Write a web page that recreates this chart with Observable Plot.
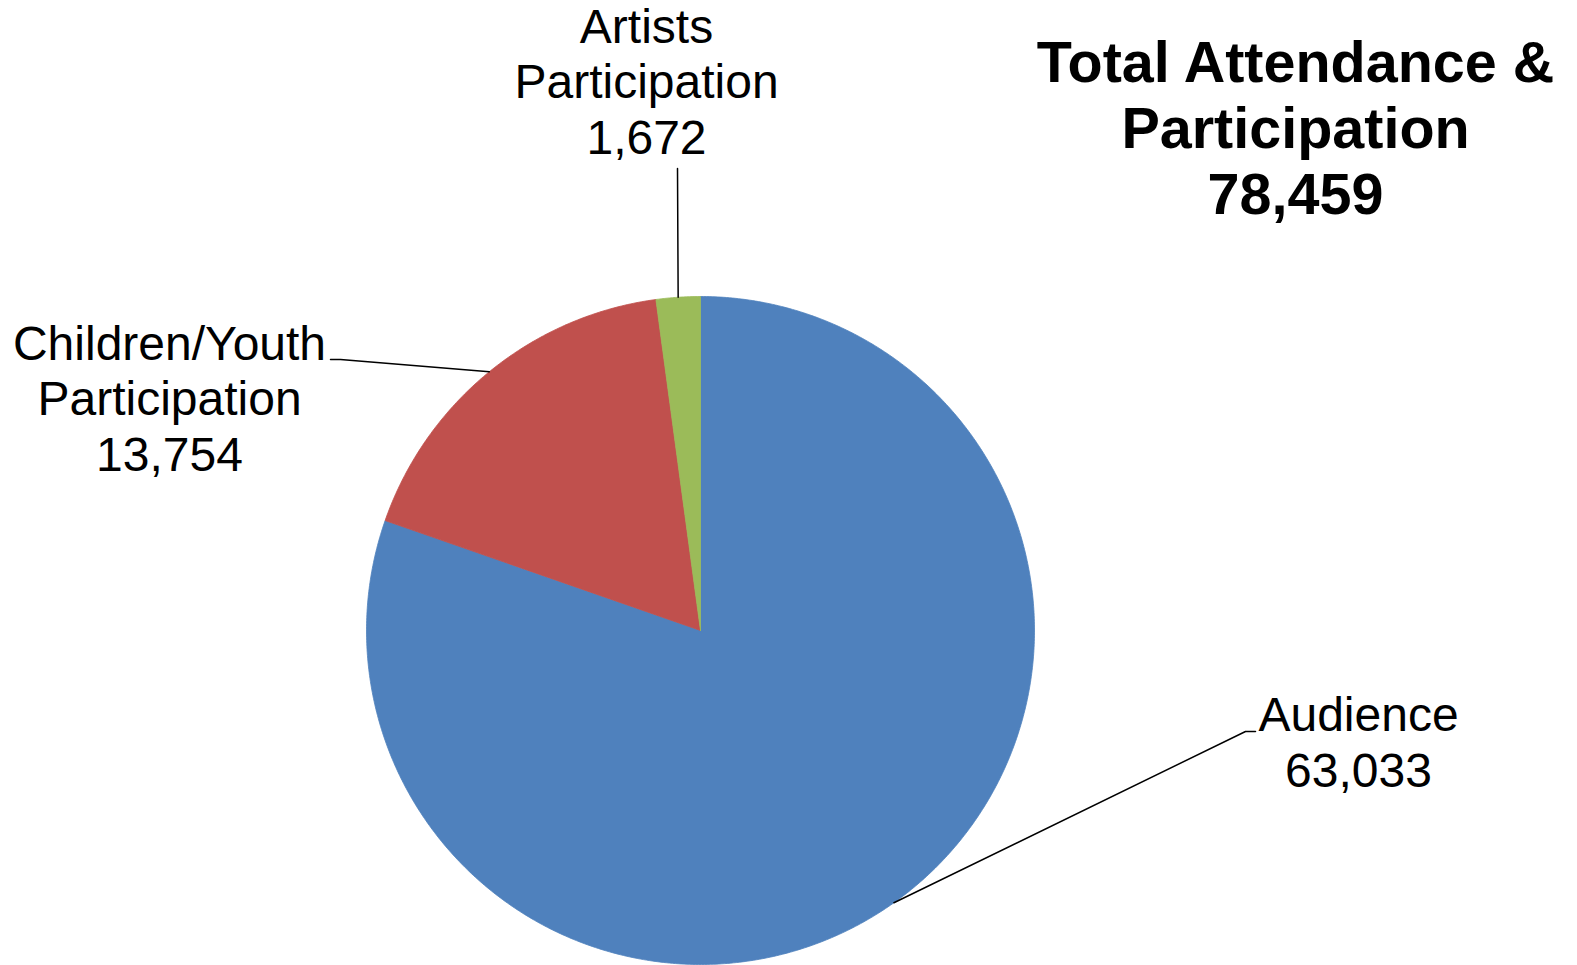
<!DOCTYPE html>
<html>
<head>
<meta charset="utf-8">
<script src="https://cdn.jsdelivr.net/npm/d3@7"></script>
<script src="https://cdn.jsdelivr.net/npm/@observablehq/plot@0.6"></script>
<style>
  html, body { margin: 0; padding: 0; background: #fff; }
  #chart svg { display: block; }
</style>
</head>
<body>
<div id="chart"></div>
<script>
// ---- data ----
const categories = ["Audience", "Children/Youth", "Artists"];
const labelNames = ["Audience", "Children/Youth\nParticipation", "Artists\nParticipation"];
const values = [63033, 13754, 1672];
const colors = ["#4F81BD", "#C0504D", "#9BBB59"];
const titleLines = ["Total Attendance &", "Participation"];

// ---- layout (pixels) ----
const W = 1577, H = 965, CX = 700, CY = 630, R = 334;
const px = (x) => (x - CX) / R;
const py = (y) => (CY - y) / R;
// leader-line bends and label anchors (pixel layout)
const leaderBends = [
  [[1245, 731], [1255, 731]],
  [[340, 359], [330, 359]],
  [[677, 168]]
];
const labelAnchors = [[1358, 786], [169, 470], [646, 153]];

const fmt = d3.format(",");
const rows = categories.map((c, i) => ({name: c, value: values[i], label: labelNames[i] + "\n" + fmt(values[i]), color: colors[i]}));
const total = d3.sum(values);

const arcs = d3.pie().sort(null).value(d => d.value).startAngle(0).endAngle(2 * Math.PI)(rows);

const wedgeMarks = arcs.map((a) => {
  const pts = [{x: 0, y: 0}];
  const n = Math.max(2, Math.ceil((a.endAngle - a.startAngle) / (Math.PI / 360)));
  for (let k = 0; k <= n; ++k) {
    const t = a.startAngle + (a.endAngle - a.startAngle) * k / n;
    pts.push({x: Math.sin(t), y: Math.cos(t)});
  }
  pts.push({x: 0, y: 0});
  return Plot.line(pts, {x: "x", y: "y", fill: a.data.color, stroke: a.data.color, strokeWidth: 0.8, curve: "linear"});
});

const leaderMarks = arcs.map((a, i) => {
  const m = (a.startAngle + a.endAngle) / 2;
  const pts = [{x: Math.sin(m), y: Math.cos(m)}].concat(leaderBends[i].map(([bx, by]) => ({x: px(bx), y: py(by)})));
  return Plot.line(pts, {x: "x", y: "y", stroke: "#000", strokeWidth: 1.5, curve: "linear"});
});

const labelData = rows.map((r, i) => ({x: px(labelAnchors[i][0]), y: py(labelAnchors[i][1]), text: r.label}));

const titleData = [{x: px(1295), y: py(213), text: titleLines.join("\n") + "\n" + fmt(total)}];

const chart = Plot.plot({
  width: W,
  height: H,
  margin: 0,
  x: {domain: [px(0), px(W)], axis: null},
  y: {domain: [py(H), py(0)], axis: null},
  style: {fontFamily: "'Liberation Sans', Arial, sans-serif", background: "#fff", overflow: "visible"},
  marks: [
    ...wedgeMarks,
    ...leaderMarks,
    Plot.text(labelData, {x: "x", y: "y", text: "text", fontSize: 48, lineAnchor: "bottom", lineHeight: 1.15, textAnchor: "middle", fill: "#000"}),
    Plot.text(titleData, {x: "x", y: "y", text: "text", fontSize: 57.5, fontWeight: "bold", lineAnchor: "bottom", lineHeight: 1.14, textAnchor: "middle", fill: "#000"})
  ]
});
document.getElementById("chart").appendChild(chart);
</script>
</body>
</html>
